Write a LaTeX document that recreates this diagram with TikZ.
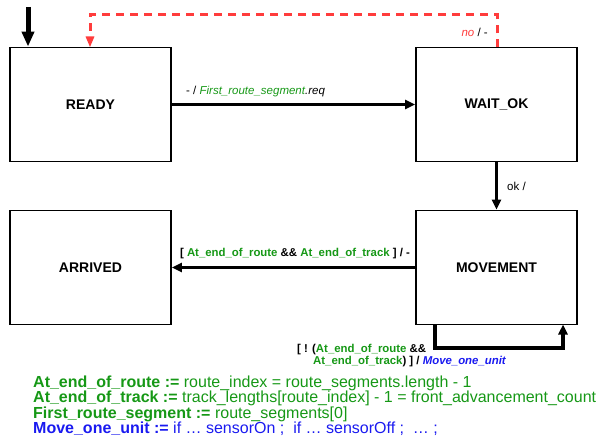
\documentclass[tikz,border=0pt]{standalone}
\usepackage{fontspec}
\setmainfont{Liberation Sans}
\usetikzlibrary{arrows.meta}
\definecolor{grn}{RGB}{22,152,22}
\definecolor{blu}{RGB}{26,26,240}
\definecolor{rdd}{RGB}{255,60,60}
\tikzset{
  state/.style={draw, line width=1.8pt, minimum width=161pt, minimum height=114pt, inner sep=0pt, font=\fontsize{14}{16}\selectfont\bfseries},
  trans/.style={line width=3.2pt, -{Triangle[length=10pt,width=9pt]}},
  lbl/.style={inner sep=0pt, font=\fontsize{11.5}{13}\selectfont},
  blbl/.style={inner sep=0pt, font=\fontsize{11.4}{13}\selectfont\bfseries},
  defn/.style={anchor=base west, inner sep=0pt, font=\fontsize{16}{15.5}\selectfont},
}
\begin{document}
\begin{tikzpicture}[x=1pt,y=-1pt]
\useasboundingbox (0,0) rectangle (597,441);
% states
\node[state] (ready)   at (90.5,104.5)  {READY};
\node[state] (waitok)  at (496.5,104.5) {WAIT\_OK};
\node[state] (arrived) at (90.5,267.5)  {ARRIVED};
\node[state] (move)    at (496.5,267.5) {MOVEMENT};
% initial transition
\coordinate (init) at (28,7);
\draw[line width=5pt, -{Triangle[length=15pt,width=12pt]}] (init) -- (init |- ready.north);
% READY -> WAIT_OK
\draw[trans] (ready.east) -- (waitok.west);
\node[lbl, anchor=base west] at (186,95) {- / \textit{\textcolor{grn}{First\_route\_segment}.req}};
% WAIT_OK -> READY (no)
\coordinate (nostart) at (497,47.5);
\coordinate (noend) at (90,47.5);
\draw[rdd, line width=3pt, dash pattern=on 8pt off 6pt, -{Triangle[length=11pt,width=8pt]}]
  (nostart) -- (497,15) -- (90,15) -- (noend);
\node[lbl, anchor=base east] at (488,37) {\textcolor{rdd}{\textit{no}} / -};
% WAIT_OK -> MOVEMENT
\draw[trans] (waitok.south) -- (move.north);
\node[lbl, anchor=base west] at (507,190) {ok /};
% MOVEMENT -> ARRIVED
\draw[trans] (move.west) -- (arrived.east);
\node[blbl, anchor=base] at (295,256)
  {[ \textcolor{grn}{At\_end\_of\_route} \&\& \textcolor{grn}{At\_end\_of\_track} ] / -};
% MOVEMENT self loop
\coordinate (la) at (435,324.5);
\coordinate (lb) at (563,324.5);
\draw[line width=3.2pt, -{Triangle[length=10pt,width=9pt]}] (la) -- (435,348) -- (563,348) -- (lb);
\node[blbl, anchor=base west] at (297,352)
  {[ ! (\textcolor{grn}{At\_end\_of\_route} \&\&};
\node[blbl, anchor=base west] at (313,364)
  {\textcolor{grn}{At\_end\_of\_track}) ] / \textcolor{blu}{\textit{Move\_one\_unit}}};
% definitions
\node[defn] (d1) at (33,387) {\textcolor{grn}{\textbf{At\_end\_of\_route :=} route\_index = route\_segments.length - 1}};
\node[defn] (d2) at (33,402.5) {\textcolor{grn}{\textbf{At\_end\_of\_track :=} track\_lengths[route\_index] - 1 = front\_advancement\_count}};
\node[defn] (d3) at (33,418) {\textcolor{grn}{\textbf{First\_route\_segment :=} route\_segments[0]}};
\node[defn] (d4) at (33,433.5) {\textcolor{blu}{\textbf{Move\_one\_unit :=} if \dots\ sensorOn ;\ \ if \dots\ sensorOff ;\ \ \dots\ ;}};
\end{tikzpicture}
\end{document}
